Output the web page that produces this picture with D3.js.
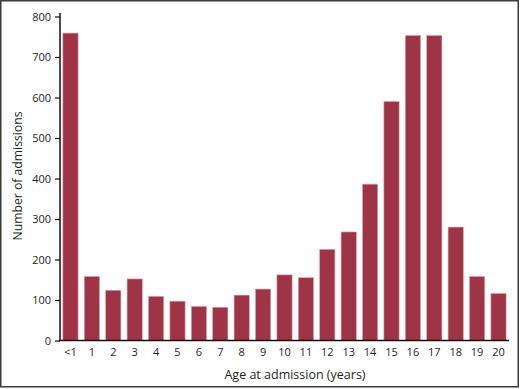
<!DOCTYPE html>
<html>
<head>
<meta charset="utf-8">
<script src="https://cdn.jsdelivr.net/npm/d3@7"></script>
<style>
  html, body { margin: 0; padding: 0; background: #fff; }
  svg { display: block; }
  text { font-family: "Open Sans", "DejaVu Sans", sans-serif; fill: #231f20; }
</style>
</head>
<body>
<svg id="chart" width="520" height="389"></svg>
<script>
    'use strict';

    const ages = ['<1', '1', '2', '3', '4', '5', '6', '7', '8', '9', '10',
        '11', '12', '13', '14', '15', '16', '17', '18', '19', '20'];
    const admissions = [759, 158, 124, 152, 109, 97, 84, 82, 112, 127, 162,
        155, 225, 268, 386, 590, 753, 753, 280, 158, 116];
    const yTicks = [0, 100, 200, 300, 400, 500, 600, 700, 800];

    (function () {
        const svg = d3.select('#chart');
        const plotLeft = 60;
        const plotRight = 509;
        const plotTop = 16.5;
        const plotBottom = 340.5;
        const font = '"Open Sans", "DejaVu Sans", sans-serif';

        // outer frame
        svg.append('rect')
            .attr('x', 0.75).attr('y', 0.75)
            .attr('width', 517.5).attr('height', 386)
            .attr('fill', 'none')
            .attr('stroke', '#3a3a3a')
            .attr('stroke-width', 1.5);

        const x = d3.scaleBand()
            .domain(ages)
            .range([plotLeft, plotRight])
            .paddingInner(0.29)
            .paddingOuter(0.135);

        const y = d3.scaleLinear()
            .domain([0, 800])
            .range([plotBottom, plotTop]);

        svg.append('g')
            .selectAll('rect')
            .data(admissions)
            .join('rect')
            .attr('x', (d, i) => x(ages[i]))
            .attr('y', (d) => y(d))
            .attr('width', x.bandwidth())
            .attr('height', (d) => y(0) - y(d))
            .attr('fill', '#9e3445')
            .attr('stroke', '#d9a3ab')
            .attr('stroke-width', 0.6);

        const yAxis = svg.append('g')
            .attr('transform', `translate(${plotLeft},0)`)
            .call(d3.axisLeft(y).tickValues(yTicks).tickSize(5).tickPadding(4).tickSizeOuter(0));
        yAxis.select('.domain').attr('d', `M0,${plotBottom}V${plotTop - 3.5}`)
            .attr('stroke', '#111').attr('stroke-width', 1.5);
        yAxis.selectAll('.tick line').attr('stroke', '#111').attr('stroke-width', 1.2);
        yAxis.selectAll('.tick text').attr('font-size', 11).attr('fill', '#231f20')
            .attr('font-family', font);

        const xAxis = svg.append('g')
            .attr('transform', `translate(0,${plotBottom})`)
            .call(d3.axisBottom(x).tickSize(0).tickPadding(8));
        xAxis.select('.domain').attr('d', `M${plotLeft - 1},0H${plotRight}`)
            .attr('stroke', '#111').attr('stroke-width', 1.5);
        xAxis.selectAll('.tick text').attr('font-size', 11).attr('fill', '#231f20')
            .attr('font-family', font);

        svg.append('text')
            .attr('x', 295)
            .attr('y', 379)
            .attr('text-anchor', 'middle')
            .attr('font-size', 12.5)
            .text('Age at admission (years)');

        svg.append('text')
            .attr('transform', 'translate(22,176) rotate(-90)')
            .attr('text-anchor', 'middle')
            .attr('font-size', 12.2)
            .text('Number of admissions');
    })();
</script>
</body>
</html>
